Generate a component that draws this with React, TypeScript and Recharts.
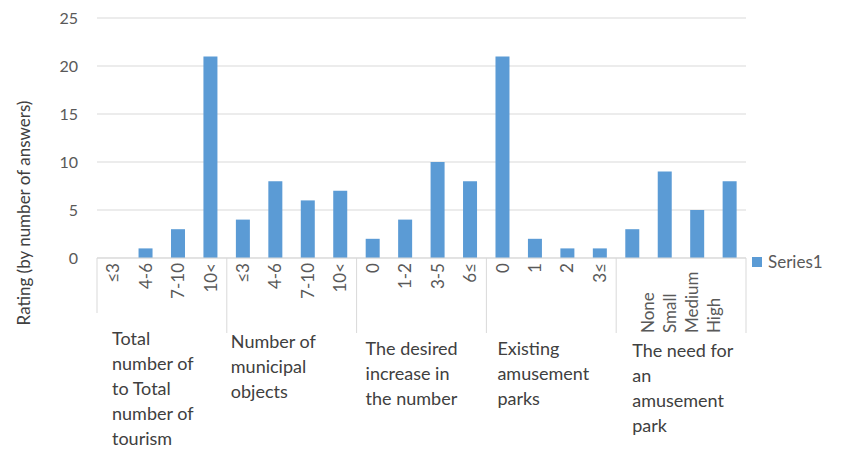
import { BarChart, Bar, XAxis, YAxis, CartesianGrid, Legend } from 'recharts'

const tickLabels = [
  '≤3', '4-6', '7-10', '10<',
  '≤3', '4-6', '7-10', '10<',
  '0', '1-2', '3-5', '6≤',
  '0', '1', '2', '3≤',
  'None', 'Small', 'Medium', 'High',
]
const answers = [0, 1, 3, 21, 4, 8, 6, 7, 2, 4, 10, 8, 21, 2, 1, 1, 3, 9, 5, 8]
const groupNames = [
  ['Total', 'number of', 'to Total', 'number of', 'tourism'],
  ['Number of', 'municipal', 'objects'],
  ['The desired', 'increase in', 'the number'],
  ['Existing', 'amusement', 'parks'],
  ['The need for', 'an', 'amusement', 'park'],
]
const groupSizes = [4, 4, 4, 4, 4]
const yTicks = [0, 5, 10, 15, 20, 25]

const data = tickLabels.map((label, i) => ({ id: i, label, answers: answers[i] }))

// first index of each group
const groupStarts: number[] = []
groupSizes.reduce((acc, n) => {
  groupStarts.push(acc)
  return acc + n
}, 0)
const groupOf = (i: number) => {
  let g = 0
  groupStarts.forEach((s, k) => {
    if (i >= s) g = k
  })
  return g
}

const W = 857
const H = 449
const margin = { top: 18, right: 111, bottom: 0, left: 0 }
const yAxisW = 97
const band = (W - margin.right - margin.left - yAxisW) / data.length

const FONT = 'Lato, "Open Sans", sans-serif'
const grid = '#d9d9d9'
const tickColor = '#595959'
const labelColor = '#404040'

// small per-group nudges of the outer label block (dx from group edge, dy of first baseline)
const groupLabelDx = [15, 4, 9, 11, 16]
const groupLabelDy = [87, 90, 97, 97, 99]

function CategoryTick(props: any) {
  const { x, y, payload } = props
  const i: number = props.index ?? payload.index
  const g = groupOf(i)
  const start = groupStarts[g]
  const last = g === groupStarts.length - 1
  const text = tickLabels[payload.value] ?? payload.value
  const parts: any[] = []

  if (last) {
    // Excel squeezed the last group's labels together and hung them from the bottom
    const center = x + (start + groupSizes[g] / 2 - i - 0.5) * band
    const tx = center + (x - center) * 0.68
    const ty = y + 75
    parts.push(
      <text key="t" x={tx} y={ty} dy="0.35em" textAnchor="start" transform={`rotate(-90, ${tx}, ${ty})`}
        fill={tickColor} fontSize={17} fontFamily={FONT}>{text}</text>
    )
  } else {
    const ty = y + 5
    parts.push(
      <text key="t" x={x} y={ty} dy="0.35em" textAnchor="end" transform={`rotate(-90, ${x}, ${ty})`}
        fill={tickColor} fontSize={17} fontFamily={FONT}>{text}</text>
    )
  }

  if (i === start) {
    const lx = x - band / 2
    parts.push(<line key="s" x1={lx} x2={lx} y1={y} y2={y + (i === 0 ? 55 : 75)} stroke={grid} />)
    const gx = lx + groupLabelDx[g]
    parts.push(
      <text key="g" x={gx} y={y + groupLabelDy[g]} fill={labelColor} fontSize={18} fontFamily={FONT}>
        {groupNames[g].map((ln, k) => (
          <tspan key={k} x={gx} dy={k === 0 ? 0 : 25}>{ln}</tspan>
        ))}
      </text>
    )
  }
  if (i === data.length - 1) {
    const rx = x + band / 2
    parts.push(<line key="e" x1={rx} x2={rx} y1={y} y2={y + 75} stroke={grid} />)
  }
  return <g>{parts}</g>
}

function LegendContent() {
  return (
    <div style={{ display: 'flex', alignItems: 'center', fontFamily: FONT, fontSize: 17, color: tickColor }}>
      <span style={{ width: 10, height: 10, background: '#5b9bd5', display: 'inline-block', marginRight: 6 }} />
      <span>Series1</span>
    </div>
  )
}

export default function App() {
  return (
    <div style={{ position: 'absolute', left: 0, top: 0, background: '#fff' }}>
      <BarChart width={W} height={H} data={data} margin={margin} barCategoryGap="28%">
        <CartesianGrid vertical={false} stroke={grid} />
        <XAxis
          dataKey="id"
          interval={0}
          height={H - 258 - margin.bottom}
          tickSize={0}
          tickMargin={0}
          tickLine={false}
          axisLine={{ stroke: grid }}
          tick={<CategoryTick />}
        />
        <YAxis
          width={yAxisW}
          domain={[0, 25]}
          ticks={yTicks}
          tickLine={false}
          axisLine={false}
          tickMargin={13}
          tick={{ fill: tickColor, fontSize: 16, fontFamily: FONT }}
          label={{
            content: () => (
              <text x={24} y={213} dy="0.35em" textAnchor="middle" transform="rotate(-90, 24, 213)"
                fill={labelColor} fontSize={17} fontFamily={FONT}>
                Rating (by number of answers)
              </text>
            ),
          }}
        />
        <Legend
          layout="vertical"
          align="center"
          verticalAlign="middle"
          content={<LegendContent />}
          wrapperStyle={{ left: 752, top: 251, width: 100 }}
        />
        <Bar dataKey="answers" name="Series1" fill="#5b9bd5" isAnimationActive={false} />
      </BarChart>
    </div>
  )
}
